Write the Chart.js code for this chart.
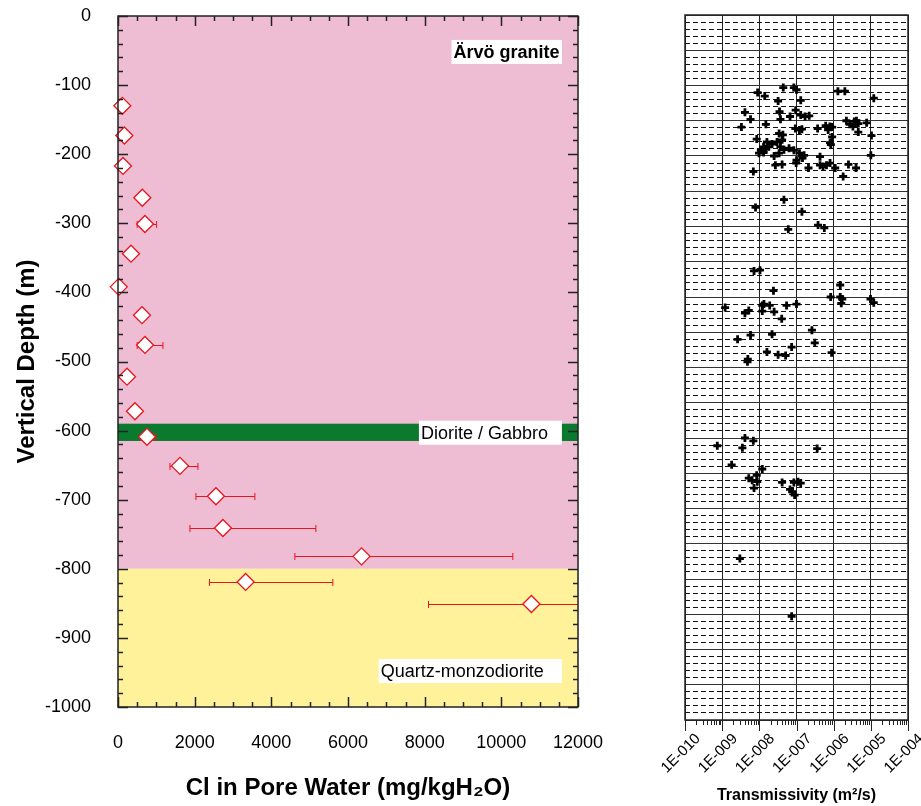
<!DOCTYPE html>
<html>
<head>
<meta charset="utf-8">
<script src="https://cdn.jsdelivr.net/npm/chart.js@4.4.1/dist/chart.umd.min.js"></script>
<style>
html, body { margin: 0; padding: 0; background: #fff; }
#wrap { position: relative; width: 921px; height: 806px; }
canvas { position: absolute; top: 0; }
</style>
</head>
<body>
<div id="wrap">
  <canvas id="clChart" width="625" height="806" style="left:0"></canvas>
  <canvas id="trChart" width="296" height="806" style="left:625px"></canvas>
</div>
<script>
const FONT = "'Liberation Sans', Arial, Helvetica, sans-serif";
Chart.defaults.font.family = FONT;
Chart.defaults.color = '#000';
Chart.defaults.animation = false;

// left panel: chloride in pore water vs depth
const clDepth = [-130, -173, -217, -263, -301, -344, -392, -433, -476, -522, -572, -609, -651, -695, -741, -782, -819, -851];
const clValue = [113, 165, 130, 634, 704, 339, 20, 626, 704, 235, 443, 756, 1616, 2555, 2737, 6353, 3329, 10785];
const clErrLow = [null, null, null, null, 500, null, null, null, 500, null, null, 600, 1355, 2033, 1877, 4614, 2386, 8100];
const clErrHigh = [null, null, null, null, 1008, null, null, null, 1173, null, null, 990, 2085, 3571, 5162, 10300, 5605, 13500];

// rock units
const rockTop = [0, -800, -590];
const rockBottom = [-800, -1000, -615];
const rockColors = ['#eebdd4', '#fff29b', '#0b7a2e'];
const rockNames = ['Ärvö granite', 'Diorite / Gabbro', 'Quartz-monzodiorite'];
const rockLabelFrom = [8700, 7850, 6800];
const rockLabelTo = [11580, 11580, 11580];
const rockLabelDepth = [-52, -603, -948];
const rockLabelBold = [true, false, false];

// right panel: transmissivity vs depth
const trValue = [
  4.4e-8, 8.5e-8, 1.0e-7, 9.0e-9, 1.4e-8, 1.3e-6, 2.0e-6, 1.2e-5, 1.3e-7, 3.2e-8,
  9.5e-8, 4.1e-9, 3.5e-8, 5.8e-9, 3.7e-8, 6.7e-8, 1.5e-8, 3.3e-9, 9.3e-8, 8.5e-9,
  3.4e-8, 4.3e-8, 1.6e-8, 2.2e-8, 3.0e-8, 4.1e-8, 1.3e-8, 1.1e-8, 1.5e-8, 1.8e-8,
  9.8e-9, 1.3e-8, 3.7e-8, 4.6e-8, 6.3e-8, 8.5e-8, 2.5e-8, 3.4e-8, 2.7e-8, 4.1e-8,
  9.8e-8, 6.9e-9, 4.6e-8, 7.9e-9, 6.0e-8, 1.3e-7, 1.7e-7, 2.2e-7, 1.2e-7, 1.4e-7,
  3.7e-7, 6.1e-7, 7.9e-7, 9.1e-7, 7.1e-7, 2.2e-6, 2.7e-6, 3.6e-6, 4.1e-6, 3.3e-6,
  4.6e-6, 7.7e-6, 4.6e-6, 1.04e-5, 9.1e-7, 8.4e-7, 8.0e-7, 1.2e-7, 1.6e-7, 1.45e-7,
  1.0e-7, 1.0e-5, 4.3e-7, 2.1e-7, 4.3e-7, 5.2e-7, 6.4e-7, 8.0e-7, 1.1e-6, 2.5e-6,
  4.0e-6, 1.8e-6, 1.4e-7, 3.8e-7, 5.6e-7,
  7.2e-9, 1.04e-8, 2.4e-8, 1.5e-6, 8.3e-7, 1.5e-6, 1.7e-6, 1.6e-6, 9.8e-6, 1.2e-5,
  1.2e-9, 4.1e-9, 5.2e-9, 1.2e-8, 1.33e-8, 1.9e-8, 1.2e-8, 2.5e-8, 5.4e-8, 1.0e-7,
  4.0e-8, 2.6e-7, 5.8e-9, 2.2e-8, 2.6e-9, 3.1e-7, 7.4e-8, 1.6e-8, 3.2e-8, 5.1e-8,
  8.8e-7, 4.9e-9, 4.8e-9,
  7.4e-10, 4.1e-9, 6.9e-9, 3.5e-9, 3.6e-7, 1.8e-9, 1.2e-8, 8.5e-9, 5.2e-9, 6.4e-9,
  8.8e-9, 7.2e-9, 4.1e-8, 8.5e-8, 1.1e-7, 1.3e-7, 6.7e-8, 7.7e-8, 8.9e-8,
  3.0e-9, 7.4e-8
];
const trDepth = [
  -103, -103, -106, -110, -115, -108, -108, -118, -121, -122,
  -135, -138, -137, -148, -148, -144, -155, -159, -161, -176,
  -168, -170, -180, -183, -180, -177, -187, -192, -190, -187,
  -196, -195, -187, -191, -189, -192, -200, -196, -213, -212,
  -210, -222, -262, -273, -304, -142, -144, -143, -163, -162,
  -161, -157, -158, -159, -163, -150, -155, -151, -150, -158,
  -154, -153, -166, -171, -173, -184, -181, -196, -199, -203,
  -206, -199, -201, -217, -213, -215, -213, -210, -217, -212,
  -217, -229, -279, -298, -302,
  -363, -362, -391, -383, -400, -400, -403, -409, -403, -408,
  -415, -423, -419, -412, -410, -412, -420, -421, -412, -410,
  -431, -447, -454, -453, -460, -465, -471, -478, -482, -483,
  -479, -488, -492,
  -611, -600, -604, -614, -615, -638, -644, -653, -657, -660,
  -662, -671, -663, -663, -662, -664, -673, -676, -681,
  -771, -853
];
const trDecades = [1e-10, 1e-9, 1e-8, 1e-7, 1e-6, 1e-5, 1e-4];

function frame(ctx, a) {
  ctx.save();
  ctx.strokeStyle = '#222';
  ctx.lineWidth = 1.5;
  ctx.strokeRect(a.left, a.top, a.right - a.left, a.bottom - a.top);
  ctx.restore();
}

const rockBands = {
  id: 'rockBands',
  beforeDatasetsDraw(chart) {
    const { ctx, chartArea: a, scales: { x, y } } = chart;
    ctx.save();
    rockTop.forEach((t, i) => {
      const y1 = y.getPixelForValue(t), y2 = y.getPixelForValue(rockBottom[i]);
      ctx.fillStyle = rockColors[i];
      ctx.fillRect(a.left, y1, a.right - a.left, y2 - y1);
    });
    ctx.textBaseline = 'middle';
    rockNames.forEach((n, i) => {
      const x1 = x.getPixelForValue(rockLabelFrom[i]);
      const x2 = x.getPixelForValue(rockLabelTo[i]);
      const yc = y.getPixelForValue(rockLabelDepth[i]);
      ctx.fillStyle = '#fff';
      ctx.fillRect(x1, yc - 12, x2 - x1, 24);
      ctx.fillStyle = '#000';
      ctx.font = (rockLabelBold[i] ? 'bold ' : '') + '18px ' + FONT;
      ctx.fillText(n, x1 + 2, yc + 1);
    });
    // error bars, behind the diamonds
    ctx.beginPath();
    ctx.rect(a.left, a.top, a.right - a.left, a.bottom - a.top);
    ctx.clip();
    ctx.strokeStyle = '#e8141c';
    ctx.lineWidth = 1;
    clValue.forEach((v, i) => {
      if (clErrLow[i] === null) return;
      const yp = Math.round(y.getPixelForValue(clDepth[i])) + 0.5;
      const xl = x.getPixelForValue(clErrLow[i]), xh = x.getPixelForValue(clErrHigh[i]);
      ctx.beginPath();
      ctx.moveTo(xl, yp); ctx.lineTo(xh, yp);
      ctx.moveTo(xl, yp - 3.5); ctx.lineTo(xl, yp + 3.5);
      ctx.moveTo(xh, yp - 3.5); ctx.lineTo(xh, yp + 3.5);
      ctx.stroke();
    });
    ctx.restore();
  },
  afterDraw(chart) {
    const { ctx, chartArea: a, scales: { x, y } } = chart;
    frame(ctx, a);
    ctx.save();
    ctx.strokeStyle = '#222';
    ctx.lineWidth = 1.5;
    ctx.beginPath();
    for (let v = 0; v <= 12000; v += 500) {
      const len = v % 2000 === 0 ? 10 : 5;
      const px = Math.round(x.getPixelForValue(v)) + 0.5;
      ctx.moveTo(px, a.top); ctx.lineTo(px, a.top + len);
      ctx.moveTo(px, a.bottom); ctx.lineTo(px, a.bottom - len);
    }
    for (let v = -1000; v <= 0; v += 20) {
      const len = v % 100 === 0 ? 10 : 5;
      const py = Math.round(y.getPixelForValue(v)) + 0.5;
      ctx.moveTo(a.left, py); ctx.lineTo(a.left + len, py);
      ctx.moveTo(a.right, py); ctx.lineTo(a.right - len, py);
    }
    ctx.stroke();
    ctx.restore();
  }
};

new Chart(document.getElementById('clChart'), {
  type: 'scatter',
  data: {
    datasets: [{
      data: clValue.map((v, i) => ({ x: v, y: clDepth[i] })),
      pointStyle: 'rectRot',
      pointRadius: 8.5,
      pointBackgroundColor: '#fff',
      pointBorderColor: '#e8141c',
      pointBorderWidth: 1.3,
      clip: false
    }]
  },
  options: {
    responsive: false,
    layout: { padding: { top: 16, right: 47, left: 0, bottom: 0 } },
    plugins: { legend: { display: false }, tooltip: { enabled: false } },
    scales: {
      x: {
        type: 'linear', min: 0, max: 12000,
        grid: { display: false },
        border: { display: false },
        ticks: { stepSize: 2000, font: { size: 18 }, padding: 17, maxRotation: 0, callback: v => String(v) },
        title: { display: true, text: 'Cl in Pore Water (mg/kgH₂O)', font: { size: 24, weight: 'bold' }, padding: { top: 0, bottom: 3 } },
        afterFit(s) { s.height = 99; s.paddingLeft = 0; s.paddingRight = 0; }
      },
      y: {
        type: 'linear', min: -1000, max: 0,
        grid: { display: false },
        border: { display: false },
        ticks: { stepSize: 100, font: { size: 18 }, padding: 19, callback: v => String(v) },
        title: { display: true, text: 'Vertical Depth (m)', font: { size: 24, weight: 'bold' }, padding: { top: 13, bottom: 0 } },
        afterFit(s) { s.width = 118; s.paddingTop = 0; s.paddingBottom = 0; }
      }
    }
  },
  plugins: [rockBands]
});

const trFrame = {
  id: 'trFrame',
  afterDraw(chart) {
    const { ctx, chartArea: a, scales: { x } } = chart;
    frame(ctx, a);
    ctx.save();
    ctx.strokeStyle = '#222';
    ctx.lineWidth = 1;
    ctx.beginPath();
    trDecades.forEach((d, i) => {
      const px = Math.round(x.getPixelForValue(d)) + 0.5;
      ctx.moveTo(px, a.bottom); ctx.lineTo(px, a.bottom + 11);
      if (i === trDecades.length - 1) return;
      for (let k = 2; k <= 9; k++) {
        const pk = Math.round(x.getPixelForValue(d * k)) + 0.5;
        ctx.moveTo(pk, a.bottom); ctx.lineTo(pk, a.bottom + 5);
      }
    });
    ctx.stroke();
    ctx.restore();
  }
};

new Chart(document.getElementById('trChart'), {
  type: 'scatter',
  data: {
    datasets: [{
      data: trValue.map((v, i) => ({ x: v, y: trDepth[i] })),
      pointStyle: 'cross',
      pointRadius: 4,
      pointBorderColor: '#000',
      pointBorderWidth: 2.8
    }]
  },
  options: {
    responsive: false,
    layout: { padding: { top: 15, right: 13, left: 60, bottom: 0 } },
    plugins: { legend: { display: false }, tooltip: { enabled: false } },
    scales: {
      x: {
        type: 'logarithmic', min: 1e-10, max: 1e-4, position: 'bottom',
        afterBuildTicks(s) { s.ticks = trDecades.map(v => ({ value: v })); },
        grid: { color: '#222', lineWidth: 1, drawTicks: false },
        border: { display: false },
        ticks: {
          autoSkip: false, minRotation: 45, maxRotation: 45, padding: 10, labelOffset: 13,
          font: { size: 15 },
          callback: v => '1E-' + String(-Math.round(Math.log10(v))).padStart(3, '0')
        },
        title: { display: true, text: 'Transmissivity (m²/s)', font: { size: 16, weight: 'bold' }, padding: { top: 0, bottom: 1 } },
        afterFit(s) { s.height = 86; s.paddingLeft = 0; s.paddingRight = 0; }
      },
      y: {
        type: 'linear', min: -1000, max: 0, position: 'left',
        grid: { color: '#333', lineWidth: 1, drawTicks: false },
        border: { display: false },
        ticks: { stepSize: 50, display: false },
        afterFit(s) { s.width = 0; s.paddingTop = 0; s.paddingBottom = 0; }
      },
      yMinor: {
        type: 'linear', min: -1000, max: 0, position: 'left',
        grid: {
          color: c => (c.tick && c.tick.value % 50 === 0) ? 'rgba(0,0,0,0)' : '#111',
          lineWidth: 1, drawTicks: false
        },
        border: { display: false, dash: [5, 3] },
        ticks: { stepSize: 10, display: false },
        afterFit(s) { s.width = 0; s.paddingTop = 0; s.paddingBottom = 0; }
      }
    }
  },
  plugins: [trFrame]
});
</script>
</body>
</html>
